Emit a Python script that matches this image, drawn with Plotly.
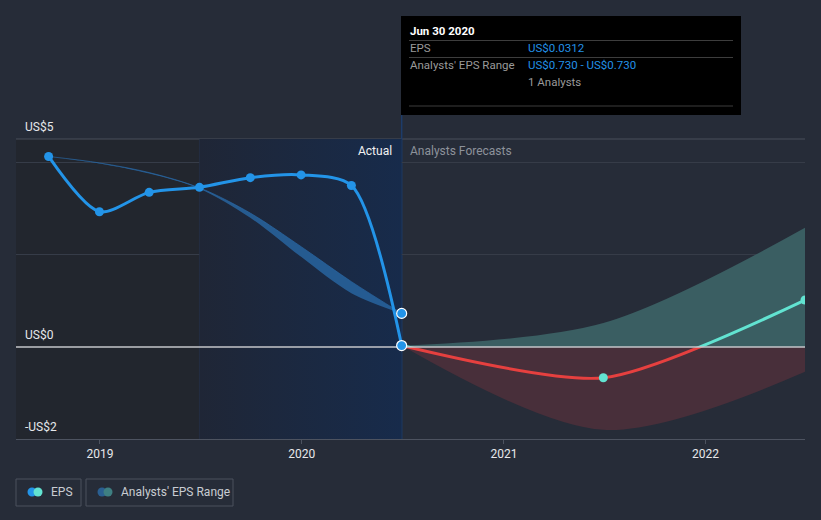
import plotly.graph_objects as go

# ---------------- data ----------------
ACTUAL_DATES = ["2018-09-30", "2018-12-31", "2019-03-31", "2019-06-30",
                "2019-09-30", "2019-12-31", "2020-03-31", "2020-06-30"]
ACTUAL_EPS = [4.14, 2.94, 3.36, 3.47, 3.68, 3.74, 3.51, 0.0312]

PAST_RANGE_HIGH = [4.14, 4.00, 3.79, 3.46, 2.91, 2.18, 1.42, 0.73]
PAST_RANGE_LOW = [4.14, 3.99, 3.77, 3.44, 2.81, 1.96, 1.17, 0.73]

FORECAST_DATES = ["2020-06-30", "2021-06-30", "2022-06-30"]
FORECAST_EPS = [0.0312, -0.67, 1.02]
FORECAST_HIGH = [0.0312, 0.52, 2.59]
FORECAST_LOW = [0.0312, -1.80, -0.54]

YEAR_TICKS = ["2019-01-01", "2020-01-01", "2021-01-01", "2022-01-01"]
YEAR_LABELS = ["2019", "2020", "2021", "2022"]
Y_LABEL_VALUES = [4.52, 0, -2]
Y_LABELS = ["US$5", "US$0", "-US$2"]
GRID_VALUES = [2, 4]

X_START, X_END = "2018-08-02", "2022-06-30"
Y_MIN, Y_MAX = -2.0, 4.52
HL_START, HL_END = "2019-06-30", "2020-06-30"

# ---------------- style ----------------
BG = "#262c38"
FONT = "Roboto"
BLUE = "#2394e8"
TEAL = "#62e3d1"
RED = "#e6403f"
W, H = 821, 520
L, R, T, B = 16, 805, 139, 439
ZF = (0 - Y_MIN) / (Y_MAX - Y_MIN)


def px(x):
    return (x - L) / (R - L)


def py(y):
    return (B - y) / (B - T)


fig = go.Figure()

# highlighted last-year region with gradient
fig.add_trace(go.Scatter(
    x=[HL_START, HL_END, HL_END, HL_START, HL_START],
    y=[Y_MIN, Y_MIN, Y_MAX, Y_MAX, Y_MIN],
    mode="lines", line=dict(width=0), fill="toself",
    fillgradient=dict(type="horizontal",
                      colorscale=[[0, "#1f2636"], [1, "#172b4b"]]),
    hoverinfo="skip", showlegend=False, xaxis="x", yaxis="y"))

# past analysts range band
fig.add_trace(go.Scatter(
    x=ACTUAL_DATES, y=PAST_RANGE_LOW, mode="lines",
    line=dict(width=0, shape="spline", smoothing=0.9),
    hoverinfo="skip", showlegend=False, yaxis="y"))
fig.add_trace(go.Scatter(
    x=ACTUAL_DATES, y=PAST_RANGE_HIGH, mode="lines",
    line=dict(width=0.8, shape="spline", smoothing=0.9, color="rgba(40,102,162,0.9)"),
    fill="tonexty", fillcolor="rgba(40,102,162,0.82)",
    hoverinfo="skip", showlegend=False, yaxis="y"))

# actual EPS line
fig.add_trace(go.Scatter(
    x=ACTUAL_DATES, y=ACTUAL_EPS, mode="lines",
    line=dict(width=3, color=BLUE, shape="spline", smoothing=0.8),
    hoverinfo="skip", showlegend=False, yaxis="y"))

# forecast band + line, above zero (teal) on y2, below zero (red) on y3
for ax, fillc, linec in (("y2", "#3a5e62", TEAL), ("y3", "#482f3a", RED)):
    fig.add_trace(go.Scatter(
        x=FORECAST_DATES, y=FORECAST_LOW, mode="lines",
        line=dict(width=0, shape="spline", smoothing=0.9),
        hoverinfo="skip", showlegend=False, yaxis=ax))
    fig.add_trace(go.Scatter(
        x=FORECAST_DATES, y=FORECAST_HIGH, mode="lines",
        line=dict(width=0, shape="spline", smoothing=0.9),
        fill="tonexty", fillcolor=fillc,
        hoverinfo="skip", showlegend=False, yaxis=ax))
    fig.add_trace(go.Scatter(
        x=FORECAST_DATES, y=FORECAST_EPS, mode="lines",
        line=dict(width=3, color=linec, shape="spline", smoothing=0.7),
        hoverinfo="skip", showlegend=False, yaxis=ax))

# zero line
fig.add_trace(go.Scatter(
    x=[X_START, X_END], y=[0, 0], mode="lines",
    line=dict(width=1.6, color="#c4c6ca"),
    hoverinfo="skip", showlegend=False, yaxis="y4"))

# markers
fig.add_trace(go.Scatter(
    x=ACTUAL_DATES[:-1], y=ACTUAL_EPS[:-1], mode="markers",
    marker=dict(size=9, color=BLUE),
    hoverinfo="skip", showlegend=False, yaxis="y4"))
fig.add_trace(go.Scatter(
    x=[ACTUAL_DATES[-1], ACTUAL_DATES[-1]], y=[PAST_RANGE_HIGH[-1], ACTUAL_EPS[-1]],
    mode="markers",
    marker=dict(size=10, color=BLUE, line=dict(width=1.2, color="white")),
    hoverinfo="skip", showlegend=False, yaxis="y4"))
fig.add_trace(go.Scatter(
    x=FORECAST_DATES[1:], y=FORECAST_EPS[1:], mode="markers",
    marker=dict(size=9, color=TEAL),
    hoverinfo="skip", showlegend=False, yaxis="y4"))

shapes = [
    # darker region before highlight
    dict(type="rect", xref="x", yref="paper", x0=X_START, x1=HL_START, y0=0, y1=1,
         fillcolor="#22262e", line=dict(width=0), layer="below"),
    dict(type="line", xref="x", yref="paper", x0=HL_START, x1=HL_START, y0=0, y1=1,
         line=dict(color="#27344c", width=1), layer="between"),
    # top border line
    dict(type="line", xref="paper", yref="paper", x0=0, x1=1, y0=1, y1=1,
         line=dict(color="#484e5a", width=1), layer="between"),
    # crosshair
    dict(type="line", xref="x", yref="paper", x0=HL_END, x1=HL_END, y0=0, y1=py(115),
         line=dict(color="#1d3c6a", width=1.5), layer="below"),
    # tooltip box
    dict(type="rect", xref="paper", yref="paper", x0=px(401), x1=px(741), y0=py(115), y1=py(16),
         fillcolor="#000000", line=dict(width=0)),
]
for yy in (40.5, 57.5, 106):
    shapes.append(dict(type="line", xref="paper", yref="paper", x0=px(409), x1=px(733),
                       y0=py(yy), y1=py(yy), line=dict(color="#3d3d3d", width=1)))

# legend boxes
for x0, x1 in ((16, 81), (86, 233)):
    shapes.append(dict(type="rect", xref="paper", yref="paper", x0=px(x0), x1=px(x1),
                       y0=py(506), y1=py(479), line=dict(color="#4a505c", width=1),
                       fillcolor="rgba(0,0,0,0)"))
for cx, col in ((32, BLUE), (38, TEAL), (102, "#2a5f91"), (108, "#3e7f82")):
    shapes.append(dict(type="circle", xref="paper", yref="paper",
                       x0=px(cx - 4.5), x1=px(cx + 4.5), y0=py(496.5), y1=py(487.5),
                       fillcolor=col, line=dict(width=0)))

annotations = []
for v, t in zip(Y_LABEL_VALUES, Y_LABELS):
    annotations.append(dict(x=px(23), y=v, xref="paper", yref="y", text=t,
                            xanchor="left", yanchor="bottom", yshift=3, showarrow=False,
                            font=dict(family=FONT, size=12, color="#e6e8eb")))

annotations += [
    dict(x=px(394), y=py(151), xref="paper", yref="paper", text="Actual",
         xanchor="right", yanchor="middle", showarrow=False,
         font=dict(family=FONT, size=12, color="#f2f2f2")),
    dict(x=px(408), y=py(151), xref="paper", yref="paper", text="Analysts Forecasts",
         xanchor="left", yanchor="middle", showarrow=False,
         font=dict(family=FONT, size=12, color="#8d929b")),
    # tooltip texts
    dict(x=px(408), y=py(31), xref="paper", yref="paper", text="<b>Jun 30 2020</b>",
         xanchor="left", yanchor="middle", showarrow=False,
         font=dict(family=FONT, size=11.5, color="#ffffff")),
    dict(x=px(408), y=py(48.5), xref="paper", yref="paper", text="EPS",
         xanchor="left", yanchor="middle", showarrow=False,
         font=dict(family=FONT, size=11.5, color="#9a9a9a")),
    dict(x=px(526), y=py(48.5), xref="paper", yref="paper", text="US$0.0312",
         xanchor="left", yanchor="middle", showarrow=False,
         font=dict(family=FONT, size=11.5, color="#2290e6")),
    dict(x=px(408), y=py(65.5), xref="paper", yref="paper", text="Analysts' EPS Range",
         xanchor="left", yanchor="middle", showarrow=False,
         font=dict(family=FONT, size=11.5, color="#9a9a9a")),
    dict(x=px(526), y=py(65.5), xref="paper", yref="paper", text="US$0.730 - US$0.730",
         xanchor="left", yanchor="middle", showarrow=False,
         font=dict(family=FONT, size=11.5, color="#2290e6")),
    dict(x=px(526), y=py(81.5), xref="paper", yref="paper", text="1 Analysts",
         xanchor="left", yanchor="middle", showarrow=False,
         font=dict(family=FONT, size=11.5, color="#9a9a9a")),
    # legend texts
    dict(x=px(49), y=py(492.5), xref="paper", yref="paper", text="EPS",
         xanchor="left", yanchor="middle", showarrow=False,
         font=dict(family=FONT, size=12, color="#c9ccd2")),
    dict(x=px(119), y=py(492.5), xref="paper", yref="paper", text="Analysts' EPS Range",
         xanchor="left", yanchor="middle", showarrow=False,
         font=dict(family=FONT, size=12, color="#c9ccd2")),
]

hidden = dict(visible=False, showgrid=False, zeroline=False, anchor="x", fixedrange=True)

fig.update_layout(
    width=W, height=H,
    margin=dict(l=L, r=W - R, t=T, b=H - B, pad=0),
    paper_bgcolor=BG, plot_bgcolor="rgba(0,0,0,0)",
    showlegend=False, hovermode=False,
    font=dict(family=FONT, size=12, color="#e6e8eb"),
    xaxis=dict(type="date", range=[X_START, X_END], tickvals=YEAR_TICKS, ticktext=YEAR_LABELS,
               showgrid=False, zeroline=False, showline=True, linecolor="#4d5360", linewidth=1,
               ticks="outside", ticklen=4, tickcolor="#4d5360",
               tickfont=dict(family=FONT, size=12, color="#e6e8eb"), anchor="y"),
    yaxis=dict(range=[Y_MIN, Y_MAX], domain=[0, 1], tickvals=GRID_VALUES, showticklabels=False,
               showgrid=True, gridcolor="#363c48", gridwidth=1, zeroline=False, ticks=""),
    yaxis2=dict(range=[0, Y_MAX], domain=[ZF, 1], **hidden),
    yaxis3=dict(range=[Y_MIN, 0], domain=[0, ZF], **hidden),
    yaxis4=dict(range=[Y_MIN, Y_MAX], domain=[0, 1], **hidden),
    shapes=shapes, annotations=annotations,
)

fig.write_html(
    "out.html",
    config={"displayModeBar": False},
    post_script=("document.body.style.margin='0';"
                 "document.body.style.background='" + BG + "';"
                 "document.body.style.overflow='hidden';"),
)
